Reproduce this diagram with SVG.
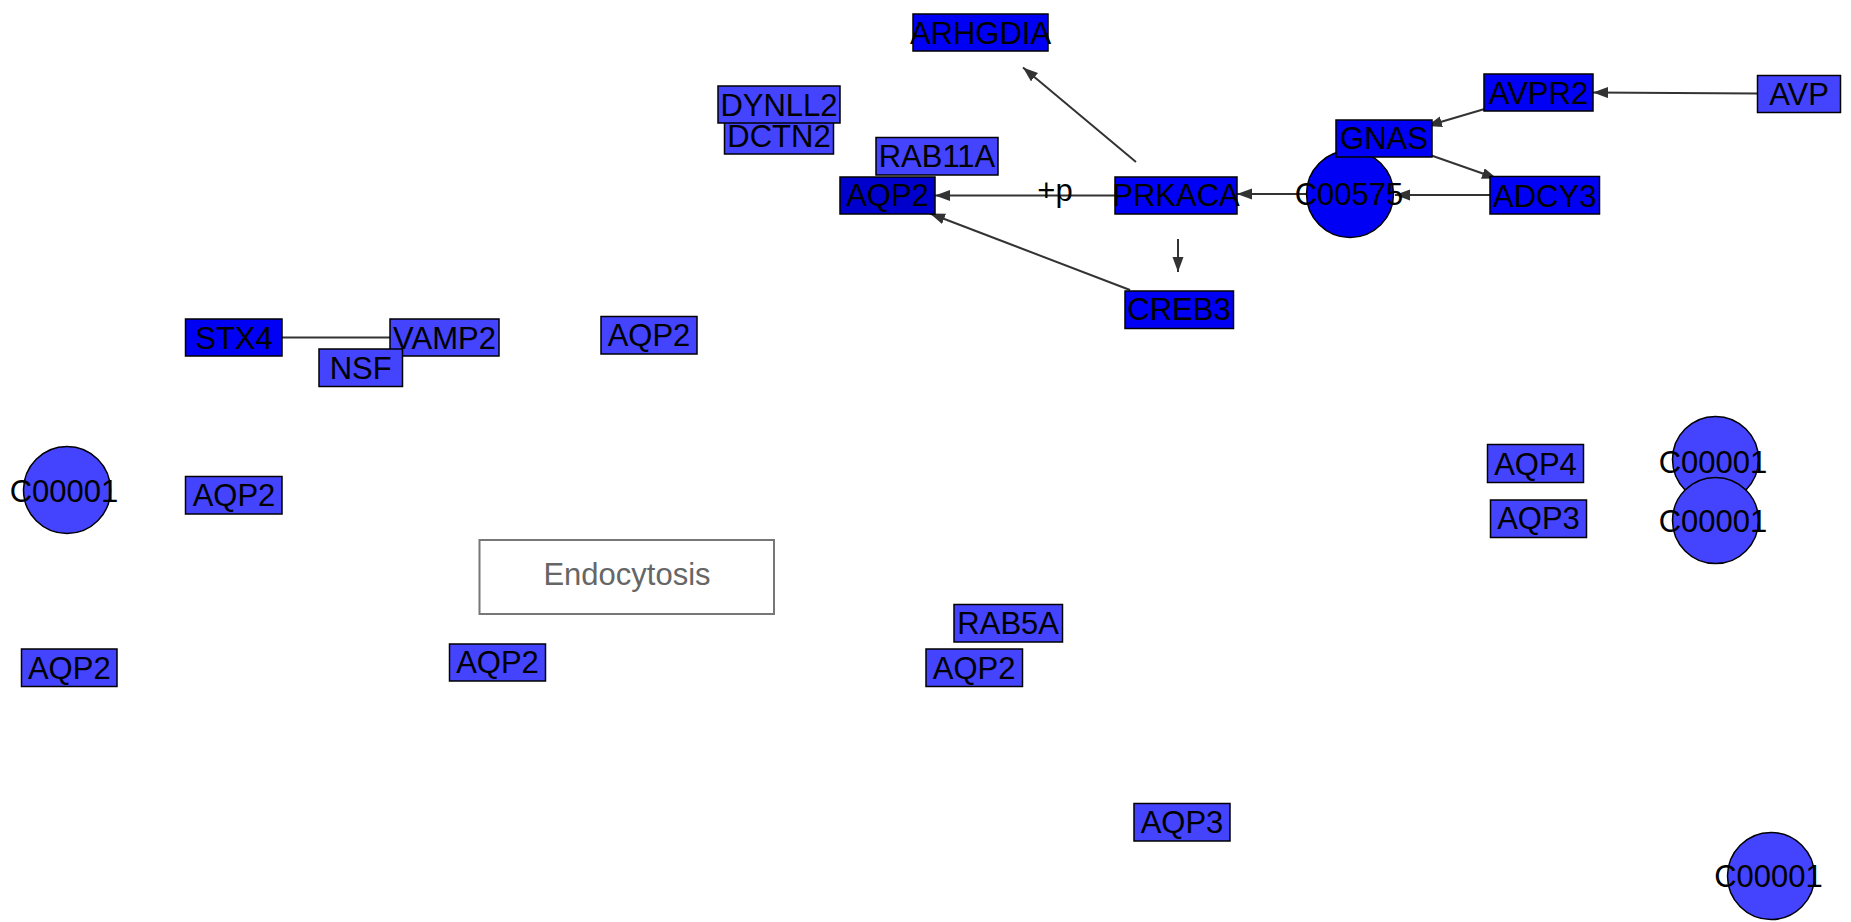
<svg xmlns="http://www.w3.org/2000/svg" width="1851" height="922" viewBox="0 0 1851 922">
<style>
text{font-family:"Liberation Sans",Arial,sans-serif;font-size:31px;fill:#000;text-anchor:middle}
.n rect,.n circle{stroke:#000;stroke-width:1.5}
.l rect,.l circle{fill:#4444ff}
.b rect,.b circle{fill:#0000f5}
.d rect{fill:#0000cc}
.e line{stroke:#333;stroke-width:2;fill:none}
.a{marker-end:url(#arr)}
</style>
<defs>
<marker id="arr" markerUnits="userSpaceOnUse" markerWidth="16" markerHeight="12" refX="15" refY="5.5" orient="auto">
<path d="M0,0 L15,5.5 L0,11 z" fill="#333"/>
</marker>
</defs>
<rect width="1851" height="922" fill="#fff"/>
<g id="connectors" class="e">
<line class="a" x1="1115" y1="195.5" x2="935" y2="195.5"/>
<line class="a" x1="1307" y1="194" x2="1237" y2="194"/>
<line class="a" x1="1136" y1="162" x2="1023" y2="67.5"/>
<line class="a" x1="1130" y1="290" x2="930" y2="213.5"/>
<line class="a" x1="1178" y1="239" x2="1178" y2="272"/>
<line class="a" x1="1757" y1="93.5" x2="1593" y2="92.5"/>
<line class="a" x1="1488" y1="108" x2="1427" y2="126"/>
<line class="a" x1="1430" y1="155" x2="1497" y2="178.5"/>
<line class="a" x1="1490" y1="195" x2="1395" y2="195"/>
<line x1="282" y1="337.5" x2="390" y2="337.5" stroke="#555"/>
<text x="1055" y="200.5">+p</text>
</g>
<g id="n-ARHGDIA" class="n b"><rect x="913" y="14" width="135" height="37"/><text x="980.5" y="43.5">ARHGDIA</text></g>
<g id="n-DCTN2" class="n l"><rect x="724.5" y="117" width="109" height="37"/><text x="779" y="146.5">DCTN2</text></g>
<g id="n-DYNLL2" class="n l"><rect x="718" y="86" width="122" height="37"/><text x="779" y="116">DYNLL2</text></g>
<g id="n-RAB11A" class="n l"><rect x="876" y="137.5" width="122" height="37.5"/><text x="937" y="166.5">RAB11A</text></g>
<g id="n-AQP2-a" class="n d"><rect x="840" y="177" width="95" height="37"/><text x="887.5" y="206">AQP2</text></g>
<g id="n-PRKACA" class="n b"><rect x="1115" y="177" width="122" height="37"/><text x="1176" y="206">PRKACA</text></g>
<g id="n-CREB3" class="n b"><rect x="1125" y="291" width="108.5" height="37.5"/><text x="1179" y="320">CREB3</text></g>
<g id="n-C00575" class="n b"><circle cx="1350" cy="194" r="43.5"/><text x="1349" y="205">C00575</text></g>
<g id="n-GNAS" class="n b"><rect x="1336" y="120" width="96" height="37"/><text x="1384" y="149">GNAS</text></g>
<g id="n-AVPR2" class="n b"><rect x="1484" y="74" width="109" height="37"/><text x="1538.5" y="103.5">AVPR2</text></g>
<g id="n-AVP" class="n l"><rect x="1757.5" y="75.5" width="83" height="37"/><text x="1799" y="105">AVP</text></g>
<g id="n-ADCY3" class="n b"><rect x="1490" y="176.5" width="109.5" height="37.5"/><text x="1544.7" y="206.5">ADCY3</text></g>
<g id="n-STX4" class="n b"><rect x="185.5" y="319" width="96.5" height="37"/><text x="234" y="348.5">STX4</text></g>
<g id="n-VAMP2" class="n l"><rect x="390" y="319" width="109" height="37"/><text x="444.5" y="348.5">VAMP2</text></g>
<g id="n-NSF" class="n l"><rect x="319" y="349" width="83.5" height="37.5"/><text x="360.7" y="378.5">NSF</text></g>
<g id="n-AQP2-b" class="n l"><rect x="601" y="316.5" width="96" height="37.5"/><text x="649" y="345.5">AQP2</text></g>
<g id="n-C00001-a" class="n l"><circle cx="67" cy="490" r="43.5"/><text x="64" y="501.5">C00001</text></g>
<g id="n-AQP2-c" class="n l"><rect x="185.5" y="476.5" width="96.5" height="37.5"/><text x="234" y="505.5">AQP2</text></g>
<g id="n-Endocytosis"><rect x="479.5" y="540" width="294.5" height="74" fill="#fff" stroke="#777" stroke-width="2"/><text x="627" y="584.5" style="fill:#666">Endocytosis</text></g>
<g id="n-AQP2-d" class="n l"><rect x="21.5" y="649" width="95.5" height="37.5"/><text x="69.3" y="678.5">AQP2</text></g>
<g id="n-AQP2-e" class="n l"><rect x="449.5" y="644" width="96" height="37"/><text x="497.5" y="673">AQP2</text></g>
<g id="n-RAB5A" class="n l"><rect x="954" y="604.5" width="108.5" height="37.5"/><text x="1008.2" y="634">RAB5A</text></g>
<g id="n-AQP2-f" class="n l"><rect x="926" y="649" width="96.5" height="37.5"/><text x="974.2" y="678.5">AQP2</text></g>
<g id="n-AQP3-a" class="n l"><rect x="1134" y="803.5" width="96" height="37.5"/><text x="1182" y="832.5">AQP3</text></g>
<g id="n-C00001-b" class="n l"><circle cx="1771" cy="876" r="43.5"/><text x="1768.5" y="887">C00001</text></g>
<g id="n-AQP4" class="n l"><rect x="1487.5" y="444.5" width="96" height="38"/><text x="1535.5" y="475">AQP4</text></g>
<g id="n-AQP3-b" class="n l"><rect x="1490.5" y="500" width="96" height="37.5"/><text x="1538.5" y="529">AQP3</text></g>
<g id="n-C00001-c" class="n l"><circle cx="1715.5" cy="459.5" r="43"/><text x="1713" y="472.5">C00001</text></g>
<g id="n-C00001-d" class="n l"><circle cx="1715.5" cy="520.5" r="43"/><text x="1713" y="531.5">C00001</text></g>
</svg>
